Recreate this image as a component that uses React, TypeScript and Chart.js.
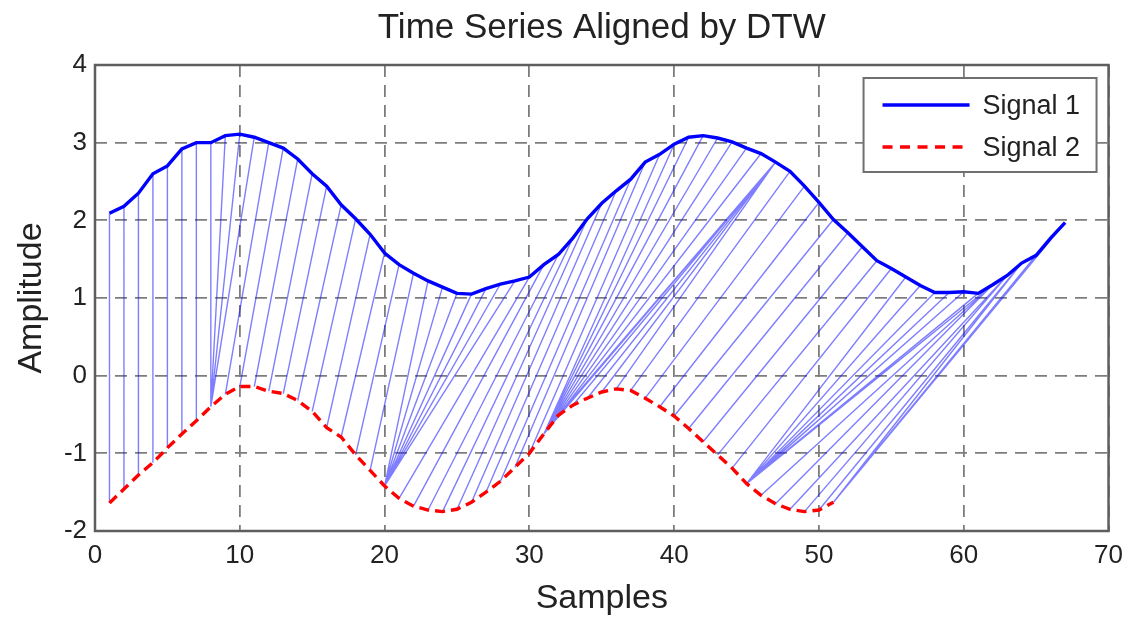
import React, { useEffect, useRef } from "react";
import { Chart, registerables } from "chart.js";

Chart.register(...registerables);

// ---- Data ----
const signal1: number[] = [
  2.09, 2.18, 2.35, 2.6, 2.7, 2.92, 3.0, 3.0, 3.09, 3.11,
  3.07, 3.0, 2.93, 2.79, 2.6, 2.44, 2.2, 2.02, 1.82, 1.58,
  1.43, 1.32, 1.22, 1.14, 1.06, 1.05, 1.12, 1.18, 1.22, 1.27,
  1.43, 1.56, 1.77, 2.02, 2.22, 2.38, 2.53, 2.75, 2.85, 2.98,
  3.07, 3.09, 3.06, 3.01, 2.93, 2.86, 2.75, 2.63, 2.44, 2.23,
  2.01, 1.84, 1.66, 1.48, 1.38, 1.27, 1.16, 1.07, 1.07, 1.08,
  1.06, 1.17, 1.29, 1.45, 1.55, 1.77, 1.97,
];

const signal2: number[] = [
  -1.64, -1.46, -1.28, -1.12, -0.93, -0.75, -0.58, -0.4, -0.24, -0.14,
  -0.14, -0.2, -0.23, -0.32, -0.46, -0.67, -0.79, -1.02, -1.22, -1.42,
  -1.58, -1.68, -1.73, -1.75, -1.72, -1.63, -1.5, -1.36, -1.18, -1.0,
  -0.75, -0.51, -0.38, -0.29, -0.21, -0.17, -0.19, -0.29, -0.4, -0.52,
  -0.68, -0.85, -1.02, -1.19, -1.39, -1.54, -1.65, -1.72, -1.75, -1.73,
  -1.63,
];

// DTW warping path: [sample index in Signal 1, sample index in Signal 2]
const warpPath: [number, number][] = [
  [1, 1], [2, 2], [3, 3], [4, 4], [5, 5], [6, 6], [7, 7],
  [8, 8], [9, 8], [10, 8], [11, 8],
  [12, 9], [13, 10], [14, 11], [15, 12], [16, 13], [17, 14], [18, 15], [19, 16], [20, 17], [21, 18], [22, 19],
  [23, 20], [24, 20], [25, 20], [26, 20], [27, 20], [28, 20], [29, 20],
  [30, 21], [31, 22], [32, 23], [33, 24], [34, 25], [35, 26], [36, 27], [37, 28], [38, 29], [39, 30],
  [40, 31], [41, 31], [42, 31], [43, 31], [44, 31], [45, 31], [46, 31], [47, 31],
  [47, 32], [47, 33], [47, 34], [47, 35], [47, 36],
  [48, 37], [49, 38], [50, 39], [51, 40], [52, 41], [53, 42], [54, 43], [55, 44],
  [56, 45], [57, 45], [58, 45], [59, 45], [60, 45], [61, 45], [62, 45],
  [62, 46], [62, 47], [63, 48], [63, 49], [64, 50], [64, 51], [65, 51], [66, 51], [67, 51],
];

const xTicks = { min: 0, max: 70, step: 10 };
const yTicks = { min: -2, max: 4, step: 1 };

const titleText = "Time Series Aligned by DTW";
const xLabel = "Samples";
const yLabel = "Amplitude";
const seriesNames = ["Signal 1", "Signal 2"];

const FONT = '"Liberation Sans", Arial, Helvetica, sans-serif';
const TEXT = "#222222";
const BLUE = "#0000ff";
const RED = "#ff0000";
const DASH = [10, 6];

const framePlugin = {
  id: "frame",
  beforeDatasetsDraw(chart: any) {
    const { ctx, chartArea } = chart;
    ctx.save();
    ctx.strokeStyle = "#5e5e5e";
    ctx.lineWidth = 2.5;
    ctx.strokeRect(chartArea.left, chartArea.top, chartArea.right - chartArea.left, chartArea.bottom - chartArea.top);
    ctx.restore();
  },
};

const boxLegendPlugin = {
  id: "boxLegend",
  afterDatasetsDraw(chart: any) {
    const { ctx, chartArea } = chart;
    const w = 233;
    const h = 94;
    const x = chartArea.right - 12 - w;
    const y = chartArea.top + 13;
    ctx.save();
    ctx.fillStyle = "#ffffff";
    ctx.fillRect(x, y, w, h);
    ctx.strokeStyle = "#707070";
    ctx.lineWidth = 2;
    ctx.strokeRect(x, y, w, h);
    const rows = [
      { name: seriesNames[0], color: BLUE, dash: [] as number[], cy: y + 27 },
      { name: seriesNames[1], color: RED, dash: [10, 7.5], cy: y + 69 },
    ];
    rows.forEach((r) => {
      ctx.beginPath();
      ctx.setLineDash(r.dash);
      ctx.strokeStyle = r.color;
      ctx.lineWidth = 3.5;
      ctx.moveTo(x + 19, r.cy);
      ctx.lineTo(x + 106, r.cy);
      ctx.stroke();
      ctx.setLineDash([]);
      ctx.fillStyle = TEXT;
      ctx.font = `27px ${FONT}`;
      ctx.textBaseline = "middle";
      ctx.textAlign = "left";
      ctx.fillText(r.name, x + 119, r.cy + 2);
    });
    ctx.restore();
  },
};

export default function App() {
  const canvasRef = useRef<HTMLCanvasElement | null>(null);

  useEffect(() => {
    if (!canvasRef.current) return;
    const s1Data = signal1.map((v, k) => ({ x: k + 1, y: v }));
    const s2Data = signal2.map((v, k) => ({ x: k + 1, y: v }));
    const linkData: { x: number; y: number | null }[] = [];
    warpPath.forEach(([i, j]) => {
      linkData.push({ x: i, y: signal1[i - 1] });
      linkData.push({ x: j, y: signal2[j - 1] });
      linkData.push({ x: j, y: null });
    });

    const chart = new Chart(canvasRef.current, {
      type: "line",
      data: {
        datasets: [
          {
            label: seriesNames[0],
            data: s1Data,
            borderColor: BLUE,
            backgroundColor: BLUE,
            borderWidth: 3.4,
            pointRadius: 0,
            tension: 0,
          },
          {
            label: seriesNames[1],
            data: s2Data,
            borderColor: RED,
            backgroundColor: RED,
            borderWidth: 3.4,
            borderDash: DASH,
            pointRadius: 0,
            tension: 0,
          },
          {
            label: "DTW links",
            data: linkData as any,
            borderColor: "rgba(20,20,255,0.55)",
            borderWidth: 1.4,
            pointRadius: 0,
            spanGaps: false,
            tension: 0,
          },
        ],
      },
      options: {
        animation: false,
        responsive: false,
        layout: { padding: { left: 0, right: 23, top: 0, bottom: 0 } },
        plugins: {
          legend: { display: false },
          tooltip: { enabled: false },
          title: {
            display: true,
            fullSize: false,
            text: titleText,
            color: TEXT,
            font: { family: FONT, size: 35, weight: "normal" },
            padding: { top: 7.5, bottom: 15.5 },
          },
        },
        scales: {
          x: {
            type: "linear",
            min: xTicks.min,
            max: xTicks.max,
            ticks: {
              stepSize: xTicks.step,
              color: TEXT,
              font: { family: FONT, size: 26 },
              padding: 9,
              maxRotation: 0,
            },
            grid: { color: "#7d7d7d", lineWidth: 1.8, drawTicks: false },
            border: { display: false, dash: [12, 8] },
            title: {
              display: true,
              text: xLabel,
              color: TEXT,
              font: { family: FONT, size: 34 },
              padding: { top: 0, bottom: 0 },
            },
            afterFit: (scale: any) => {
              scale.height = 88;
            },
          },
          y: {
            type: "linear",
            min: yTicks.min,
            max: yTicks.max,
            ticks: {
              stepSize: yTicks.step,
              color: TEXT,
              font: { family: FONT, size: 26 },
              padding: 8,
            },
            grid: { color: "#7d7d7d", lineWidth: 1.8, drawTicks: false },
            border: { display: false, dash: [12, 8] },
            title: {
              display: true,
              text: yLabel,
              color: TEXT,
              font: { family: FONT, size: 34 },
              padding: { top: 11, bottom: 0 },
            },
            afterFit: (scale: any) => {
              scale.width = 95;
            },
          },
        },
      },
      plugins: [framePlugin, boxLegendPlugin],
    });
    return () => chart.destroy();
  }, []);

  return (
    <div style={{ position: "absolute", left: 0, top: 0, width: 1132, height: 619, background: "#ffffff" }}>
      <canvas ref={canvasRef} width={1132} height={619} />
    </div>
  );
}
